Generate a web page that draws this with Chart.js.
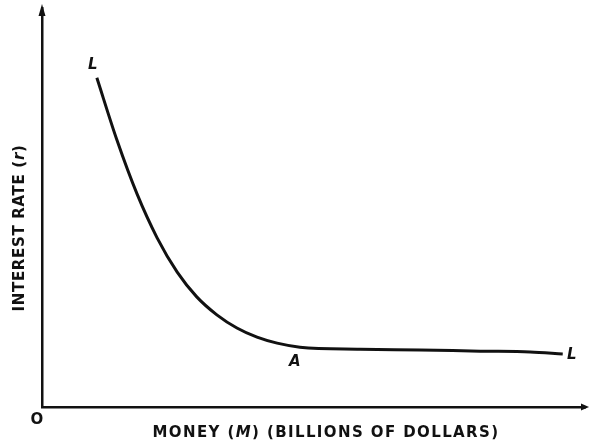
<!DOCTYPE html>
<html lang="en">
<head>
    <meta charset="UTF-8">
    <title>Liquidity preference curve</title>
    <style>
        body { margin: 0; background: #fff; }
        #wrap { width: 591px; height: 441px; }
    </style>
    <script src="https://cdn.jsdelivr.net/npm/chart.js"></script>
</head>
<body>
    <div id="wrap"><canvas id="lpChart" width="591" height="441"></canvas></div>
    <script>
        // curve (arbitrary units 0-100)
        const money = [10.1, 13.8, 17.5, 21.2, 24.9, 28.5, 32.2, 35.9, 39.6, 43.3, 47.5, 58.6, 69.6, 80.7, 89.9, 95.9];
        const rate  = [82.5, 66.9, 53.4, 42.4, 33.8, 27.6, 23.1, 19.8, 17.5, 16.0, 15.0, 14.5, 14.3, 14.0, 13.8, 13.3];

        // point labels: text and the curve point they sit beside
        const pointLabels = ['L', 'A', 'L'];
        const labelAt = [0, 10, 15];

        const xTitle = [['MONEY (', false], ['M', true], [') (BILLIONS OF DOLLARS)', false]];
        const yTitle = [['INTEREST RATE (', false], ['r', true], [')', false]];

        const ink = '#111';
        const fontFam = '"DejaVu Sans", sans-serif';

        // draws a run of text centred on 0,0, stretched to the given width
        function drawRich(ctx, parts, size, width) {
            const fontFor = it => (it ? 'italic ' : '') + 'bold ' + size + 'px ' + fontFam;
            let natural = 0, chars = 0;
            parts.forEach(([t, it]) => {
                ctx.font = fontFor(it);
                natural += ctx.measureText(t).width;
                chars += t.length;
            });
            const spacing = (width - natural) / chars;
            let x = -width / 2;
            ctx.letterSpacing = spacing + 'px';
            parts.forEach(([t, it]) => {
                ctx.font = fontFor(it);
                ctx.fillText(t, x, 0);
                x += ctx.measureText(t).width;
            });
            ctx.letterSpacing = '0px';
        }

        const extras = {
            id: 'extras',
            afterDraw(chart) {
                const ctx = chart.ctx;
                const a = chart.chartArea;
                const xs = chart.scales.x, ys = chart.scales.y;
                ctx.save();
                ctx.fillStyle = ink;

                // arrow heads on the axes
                ctx.beginPath();
                ctx.moveTo(a.left, a.top - 4);
                ctx.lineTo(a.left - 3.5, a.top + 8);
                ctx.lineTo(a.left + 3.5, a.top + 8);
                ctx.closePath();
                ctx.fill();
                ctx.beginPath();
                ctx.moveTo(a.right + 4, a.bottom);
                ctx.lineTo(a.right - 4, a.bottom - 3.5);
                ctx.lineTo(a.right - 4, a.bottom + 3.5);
                ctx.closePath();
                ctx.fill();

                // letters on the curve
                ctx.font = 'italic bold 15px ' + fontFam;
                ctx.textAlign = 'center';
                ctx.textBaseline = 'middle';
                const offs = [[-4, -13], [-5, 15], [9, 1]];
                pointLabels.forEach((t, i) => {
                    const k = labelAt[i];
                    ctx.fillText(t, xs.getPixelForValue(money[k]) + offs[i][0], ys.getPixelForValue(rate[k]) + offs[i][1]);
                });

                // origin
                ctx.font = 'bold 15px ' + fontFam;
                ctx.fillText('O', a.left - 5, a.bottom + 13);

                // axis titles
                ctx.textAlign = 'left';
                ctx.textBaseline = 'alphabetic';
                ctx.save();
                ctx.translate(326, a.bottom + 30);
                drawRich(ctx, xTitle, 15, 347);
                ctx.restore();
                ctx.save();
                ctx.translate(24, 228);
                ctx.rotate(-Math.PI / 2);
                drawRich(ctx, yTitle, 15, 167);
                ctx.restore();

                ctx.restore();
            }
        };

        const axisOpts = {
            type: 'linear',
            min: 0,
            max: 100,
            ticks: { display: false },
            grid: { display: false, drawTicks: false },
            border: { display: true, color: ink, width: 2.5 }
        };

        new Chart(document.getElementById('lpChart'), {
            type: 'line',
            data: {
                datasets: [{
                    data: money.map((m, i) => ({ x: m, y: rate[i] })),
                    borderColor: ink,
                    borderWidth: 3,
                    pointRadius: 0,
                    cubicInterpolationMode: 'monotone',
                    fill: false
                }]
            },
            options: {
                responsive: false,
                animation: false,
                layout: { padding: { left: 42, right: 6, top: 8, bottom: 34 } },
                plugins: { legend: { display: false }, tooltip: { enabled: false } },
                scales: { x: axisOpts, y: axisOpts }
            },
            plugins: [extras]
        });
    </script>
</body>
</html>
